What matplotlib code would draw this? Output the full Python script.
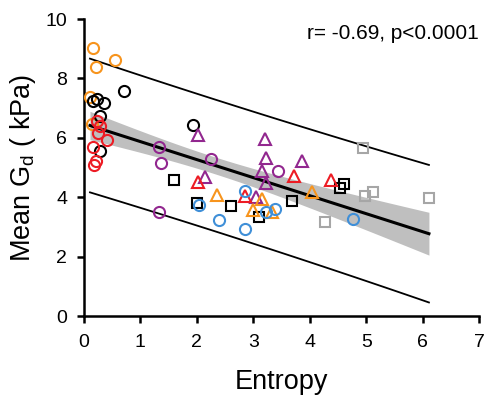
import numpy as np
import matplotlib.pyplot as plt

plt.rcParams['font.family'] = ['Liberation Sans', 'DejaVu Sans']
plt.rcParams['mathtext.default'] = 'regular'

# --- data (entropy, mean Gd)
orange_circ_x = [0.16, 0.22, 0.55, 0.11, 0.14]
orange_circ_y = [9.02, 8.38, 8.62, 7.39, 6.48]
black_circ_x = [0.16, 0.24, 0.35, 0.71, 0.28, 0.28, 1.94]
black_circ_y = [7.24, 7.31, 7.18, 7.58, 6.72, 5.57, 6.43]
red_circ_x = [0.24, 0.28, 0.25, 0.41, 0.17, 0.22, 0.19]
red_circ_y = [6.58, 6.40, 6.18, 5.93, 5.69, 5.23, 5.10]
purple_circ_x = [1.34, 1.36, 2.25, 3.43, 1.34]
purple_circ_y = [5.70, 5.17, 5.28, 4.90, 3.50]
purple_tri_x = [2.02, 2.15, 3.21, 3.23, 3.15, 3.23, 3.86, 3.05]
purple_tri_y = [6.10, 4.68, 5.95, 5.32, 4.90, 4.48, 5.22, 4.02]
red_tri_x = [2.02, 2.86, 3.72, 4.37]
red_tri_y = [4.50, 4.04, 4.71, 4.58]
orange_tri_x = [2.35, 2.99, 3.16, 4.04, 3.33]
orange_tri_y = [4.06, 3.57, 3.95, 4.17, 3.50]
blue_circ_x = [2.86, 2.04, 2.39, 2.86, 3.23, 3.39, 4.76]
blue_circ_y = [4.22, 3.75, 3.25, 2.92, 3.50, 3.62, 3.27]
black_sq_x = [1.60, 2.01, 2.60, 3.11, 3.68, 4.61, 4.53]
black_sq_y = [4.57, 3.82, 3.71, 3.32, 3.88, 4.45, 4.30]
gray_sq_x = [4.94, 4.98, 5.12, 4.27, 6.11]
gray_sq_y = [5.65, 4.05, 4.16, 3.17, 3.97]

groups = [
    (black_sq_x, black_sq_y, 's', 'black'),
    (gray_sq_x, gray_sq_y, 's', '#a6a6a6'),
    (orange_circ_x, orange_circ_y, 'o', '#f7941d'),
    (black_circ_x, black_circ_y, 'o', 'black'),
    (red_circ_x, red_circ_y, 'o', '#ed1c24'),
    (purple_circ_x, purple_circ_y, 'o', '#92278f'),
    (purple_tri_x, purple_tri_y, '^', '#92278f'),
    (red_tri_x, red_tri_y, '^', '#ed1c24'),
    (orange_tri_x, orange_tri_y, '^', '#f7941d'),
    (blue_circ_x, blue_circ_y, 'o', '#3f8fd8'),
]

x_all = np.concatenate([g[0] for g in groups])
y_all = np.concatenate([g[1] for g in groups])

# linear fit with confidence and prediction bands
n = len(x_all)
b, a = np.polyfit(x_all, y_all, 1)
res = y_all - (a + b * x_all)
s = np.sqrt(np.sum(res ** 2) / (n - 2))
xm = x_all.mean()
sxx = np.sum((x_all - xm) ** 2)
t = 2.006
xf = np.linspace(x_all.min(), x_all.max(), 100)
yf = a + b * xf
ci = t * s * np.sqrt(1 / n + (xf - xm) ** 2 / sxx)
pi = t * s * np.sqrt(1 + 1 / n + (xf - xm) ** 2 / sxx)

fig = plt.figure(figsize=(4.87, 3.98), dpi=100)
ax = fig.add_axes([0.172, 0.206, 0.812, 0.746])

ax.fill_between(xf, yf - ci, yf + ci, color='#bfbfbf', lw=0, zorder=1)
ax.plot(xf, yf, color='black', lw=2.2, zorder=2)
ax.plot(xf, yf + pi, color='black', lw=1.3, zorder=2)
ax.plot(xf, yf - pi, color='black', lw=1.3, zorder=2)

for gx, gy, m, c in groups:
    ms = 7.5 if m == 's' else 8
    ax.plot(gx, gy, m, mfc='none', mec=c, ms=ms, mew=1.5, zorder=3)

ax.set_xlim(0, 7)
ax.set_ylim(0, 10)
ax.set_xticks(range(0, 8))
ax.set_yticks(range(0, 11, 2))
for sp in ['top', 'right']:
    ax.spines[sp].set_visible(False)
for sp in ['left', 'bottom']:
    ax.spines[sp].set_linewidth(1.8)
ax.tick_params(direction='out', length=5, width=1.8, labelsize=14)
ax.tick_params(axis='x', pad=8)
ax.tick_params(axis='y', pad=7)

ax.set_xlabel('Entropy', fontsize=19.5, labelpad=13)
ax.set_ylabel('Mean G$_d$ ( kPa)', fontsize=19.5, labelpad=5)
ax.text(1.0, 0.985, 'r= -0.69, p<0.0001', transform=ax.transAxes,
        ha='right', va='top', fontsize=15)

fig.savefig('out.png', dpi=100)
